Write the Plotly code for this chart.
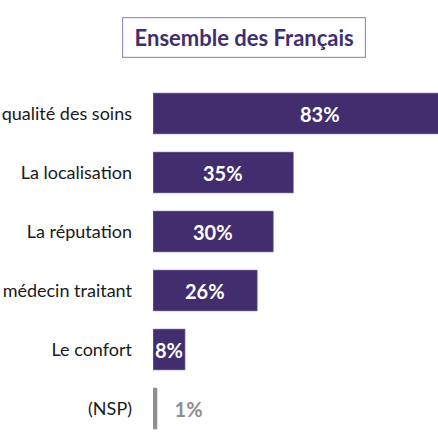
import plotly.graph_objects as go

# Data
categories = ["La qualité des soins", "La localisation", "La réputation",
              "Le médecin traitant", "Le confort", "(NSP)"]
values = [83, 35, 30, 26, 8, 1]
title_text = "Ensemble des Français"

purple = "#422e6e"
grey = "#8e8e8e"

is_nsp = [c == "(NSP)" for c in categories]
colors = [grey if n else purple for n in is_nsp]
# only the NSP value is written as bar text (outside); the others are annotations
bar_text = ["   %d%%" % v if n else "" for v, n in zip(values, is_nsp)]

fig = go.Figure()
fig.add_trace(go.Bar(
    x=values,
    y=categories,
    orientation="h",
    marker=dict(color=colors, line=dict(color="#9b8fc4", width=0.6)),
    text=bar_text,
    textposition="outside",
    textangle=0,
    constraintext="none",
    outsidetextfont=dict(family="Lato", size=20, color=grey, weight="bold"),
    cliponaxis=False,
    hoverinfo="skip",
))

# value labels centred in the purple bars
for c, v, n in zip(categories, values, is_nsp):
    if n:
        continue
    fig.add_annotation(
        x=v / 2, y=c, xref="x", yref="y",
        text="<b>%d%%</b>" % v, showarrow=False,
        font=dict(family="Lato", size=20, color="white"),
    )

# boxed heading
fig.add_annotation(
    text="<b>" + title_text + "</b>",
    xref="paper", yref="paper",
    x=0.318, y=1.1305, xanchor="center", yanchor="middle",
    showarrow=False,
    font=dict(family="Lato", size=22, color="#3f2f70"),
    width=238, height=35,
    bordercolor="#9c90c6", borderwidth=1.2, borderpad=2,
    bgcolor="white",
)

fig.update_yaxes(
    autorange="reversed", automargin=False,
    showgrid=False, zeroline=False, showline=False,
    ticks="", ticklabelstandoff=20,
    tickfont=dict(family="Lato", size=18, color="#1a1a1a"),
)
fig.update_xaxes(
    range=[0, 71], visible=False, automargin=False,
    showgrid=False, zeroline=False,
)

fig.update_layout(
    width=438, height=438,
    margin=dict(l=153, r=0, t=84, b=0, autoexpand=False),
    bargap=0.305,
    plot_bgcolor="white",
    paper_bgcolor="white",
    showlegend=False,
)

fig.write_html("out.html", config={"displayModeBar": False},
               post_script="document.body.style.margin='0';")
